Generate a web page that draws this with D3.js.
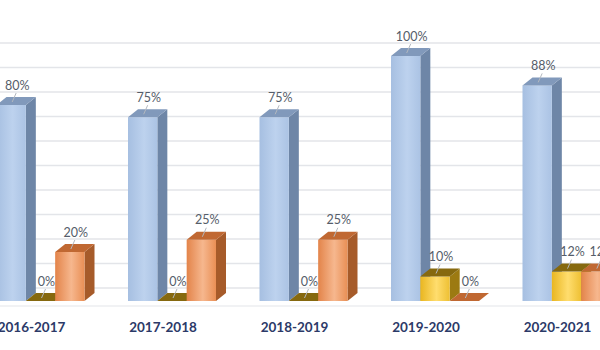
<!DOCTYPE html>
<html>
<head>
<meta charset="utf-8">
<script src="https://cdn.jsdelivr.net/npm/d3@7"></script>
<style>
  html, body { margin: 0; padding: 0; background: #ffffff; }
  svg { display: block; }
</style>
</head>
<body>
<svg id="chart" width="600" height="350"></svg>
<script>
// School years shown along the floor of the chart
const categories = ["2016-2017", "2017-2018", "2018-2019", "2019-2020", "2020-2021"];

// Share per school year for each of the three series
const seriesBlue   = [0.80, 0.75, 0.75, 1.00, 0.88];
const seriesGold   = [0.00, 0.00, 0.00, 0.10, 0.12];
const seriesOrange = [0.20, 0.25, 0.25, 0.00, 0.12];

// Back-wall gridline levels
const gridTicks = [0, 0.1, 0.2, 0.3, 0.4, 0.5, 0.6, 0.7, 0.8, 0.9, 1.0];

const series = [
  { key: "blue",   values: seriesBlue },
  { key: "gold",   values: seriesGold },
  { key: "orange", values: seriesOrange }
];

// Face shading for the 3D columns
const palette = {
  blue:   { front: ["#a6bfe1", "#bdd2ee", "#abc3e4"], side: "#6e86a7", top: "#8199bb" },
  gold:   { front: ["#e9b620", "#ffdd6e", "#eec033"], side: "#9c7a12", top: "#86690f" },
  orange: { front: ["#e3844a", "#f6b78e", "#e98f55"], side: "#a65b2a", top: "#c06832" }
};

const svg = d3.select("#chart");
const W = 600, H = 350;

// Depth offsets of the 3D projection
const depthX = 10, depthY = 8;     // column depth
const wallY = 13;                  // back wall lies further behind the columns

const x = d3.scalePoint().domain(categories).range([40.5, 566.5]);
const xInner = d3.scaleBand().domain(series.map(s => s.key)).range([-44, 44]).padding(0);
const y = d3.scaleLinear().domain([0, 1]).range([301, 56]);
const fmt = d3.format(".0%");

// Gradients for the front faces
const defs = svg.append("defs");
series.forEach(s => {
  const g = defs.append("linearGradient")
    .attr("id", "grad-" + s.key)
    .attr("x1", "0%").attr("x2", "100%").attr("y1", "0%").attr("y2", "0%");
  const c = palette[s.key].front;
  g.append("stop").attr("offset", "0%").attr("stop-color", c[0]);
  g.append("stop").attr("offset", "55%").attr("stop-color", c[1]);
  g.append("stop").attr("offset", "100%").attr("stop-color", c[2]);
});

// Back-wall gridlines
svg.append("g")
  .selectAll("line")
  .data(gridTicks)
  .join("line")
  .attr("x1", 0).attr("x2", W)
  .attr("y1", d => y(d) - wallY).attr("y2", d => y(d) - wallY)
  .attr("stroke", "#e3e5e9")
  .attr("stroke-width", 1.5);

// Front edge of the floor
svg.append("line")
  .attr("x1", 0).attr("x2", W)
  .attr("y1", y(0) + 5).attr("y2", y(0) + 5)
  .attr("stroke", "#eceef1")
  .attr("stroke-width", 1.5);

// Columns, drawn left to right so each column hides its neighbour's side face
const bars = [];
categories.forEach((cat, i) => {
  series.forEach(s => {
    bars.push({ cat, key: s.key, value: s.values[i] });
  });
});

const barW = xInner.bandwidth();
const barG = svg.append("g");

bars.forEach(b => {
  const x0 = x(b.cat) + xInner(b.key);
  const x1 = x0 + barW;
  const yt = y(b.value);
  const yb = y(0);
  const p = palette[b.key];
  const g = barG.append("g");

  // right side face
  g.append("path")
    .attr("d", `M${x1},${yt} L${x1 + depthX},${yt - depthY} L${x1 + depthX},${yb - depthY} L${x1},${yb} Z`)
    .attr("fill", p.side);
  // front face
  if (yb - yt > 0) {
    g.append("rect")
      .attr("x", x0).attr("y", yt)
      .attr("width", barW).attr("height", yb - yt)
      .attr("fill", `url(#grad-${b.key})`);
  }
  // top face
  g.append("path")
    .attr("d", `M${x0},${yt} L${x1},${yt} L${x1 + depthX},${yt - depthY} L${x0 + depthX},${yt - depthY} Z`)
    .attr("fill", p.top);
});

// Value labels with short leader lines
const labelG = svg.append("g");
bars.forEach(b => {
  const cx = x(b.cat) + xInner(b.key) + barW / 2;
  const yt = y(b.value);
  labelG.append("line")
    .attr("x1", cx + 5).attr("y1", yt - 12)
    .attr("x2", cx + 1).attr("y2", yt - 3)
    .attr("stroke", "#b3b8bf")
    .attr("stroke-width", 1);
  labelG.append("text")
    .attr("x", cx + 6)
    .attr("y", yt - 15.5)
    .attr("text-anchor", "middle")
    .attr("font-family", "Lato, 'Open Sans', sans-serif")
    .attr("font-size", 12.5)
    .attr("fill", "#555d69")
    .text(fmt(b.value));
});

// Category labels along the floor
svg.append("g")
  .selectAll("text")
  .data(categories)
  .join("text")
  .attr("x", d => x(d) - 9)
  .attr("y", 332)
  .attr("text-anchor", "middle")
  .attr("font-family", "Lato, 'Open Sans', sans-serif")
  .attr("font-weight", "bold")
  .attr("font-size", 13.5)
  .attr("fill", "#2c3a68")
  .text(d => d);
</script>
</body>
</html>
